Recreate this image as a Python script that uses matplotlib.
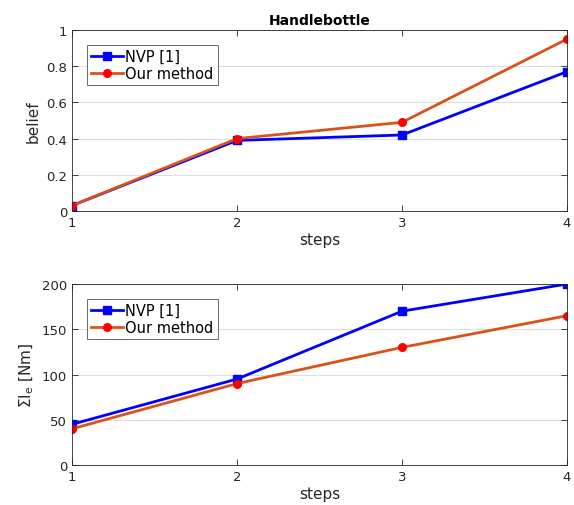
import matplotlib
matplotlib.use("Agg")
import matplotlib.pyplot as plt

steps = [1, 2, 3, 4]
belief_nvp = [0.03, 0.39, 0.42, 0.77]
belief_ours = [0.03, 0.40, 0.49, 0.95]
effort_nvp = [45, 95, 170, 200]
effort_ours = [40, 90, 130, 165]
labels = ["NVP [1]", "Our method"]

plt.rcParams['font.family'] = ['DejaVu Sans']
fig = plt.figure(figsize=(5.74, 5.06), dpi=100)
ax1 = fig.add_axes([0.1254, 0.581, 0.8624, 0.3577])
ax2 = fig.add_axes([0.1254, 0.079, 0.8624, 0.3577])

blue = '#0000FF'
orange = '#D95319'
red = '#FF0000'

def style(ax, ylim, yticks, ylabel):
    ax.set_xlim(1, 4)
    ax.set_ylim(*ylim)
    ax.set_xticks(steps)
    ax.set_yticks(yticks)
    ax.yaxis.grid(True, color='#DFDFDF', linewidth=0.8)
    ax.set_axisbelow(True)
    ax.tick_params(direction='in', top=True, right=True, labelsize=9.5,
                   colors='#262626', length=4, width=0.6)
    for s in ax.spines.values():
        s.set_color('#262626')
        s.set_linewidth(0.6)
    ax.set_xlabel('steps', fontsize=11, color='#262626', labelpad=2)
    ax.set_ylabel(ylabel, fontsize=11, color='#262626', labelpad=4)

def legend(ax, handles):
    leg = ax.legend(handles, labels, loc='upper left', bbox_to_anchor=(0.015, 0.96),
                    fontsize=10.5, fancybox=False, edgecolor='#262626', handlelength=2.2,
                    borderpad=0.3, labelspacing=0.15, handletextpad=0.15, borderaxespad=0.5)
    leg.get_frame().set_linewidth(0.6)

l1, = ax1.plot(steps, belief_nvp, '-s', color=blue, lw=2, ms=5.5, mfc=blue, mec=blue)
l2, = ax1.plot(steps, belief_ours, '-o', color=orange, lw=2, ms=5.5, mfc=red, mec=red)
style(ax1, (0, 1), [0, 0.2, 0.4, 0.6, 0.8, 1], 'belief')
ax1.set_yticklabels(['0', '0.2', '0.4', '0.6', '0.8', '1'])
ax1.set_title('Handlebottle', fontsize=10, fontweight='bold', pad=4)
legend(ax1, [l1, l2])

m1, = ax2.plot(steps, effort_nvp, '-s', color=blue, lw=2, ms=5.5, mfc=blue, mec=blue)
m2, = ax2.plot(steps, effort_ours, '-o', color=orange, lw=2, ms=5.5, mfc=red, mec=red)
style(ax2, (0, 200), [0, 50, 100, 150, 200], r'$\Sigma$I$_\mathrm{e}$ [Nm]')
legend(ax2, [m1, m2])

fig.savefig('out.png', dpi=100, facecolor='white')
